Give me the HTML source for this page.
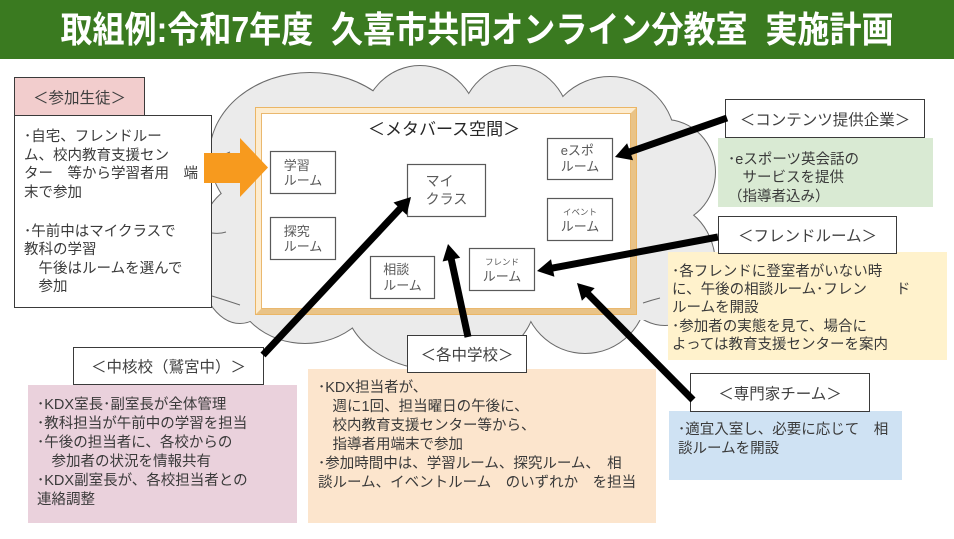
<!DOCTYPE html>
<html><head><meta charset="utf-8">
<style>
html,body{margin:0;padding:0;}
body{width:954px;height:539px;position:relative;overflow:hidden;background:#fff;font-family:"Liberation Sans","Noto Sans CJK JP",sans-serif;}
.abs{position:absolute;}
.t{position:absolute;white-space:pre;color:#3a3a3a;font-size:14.5px;font-family:"Liberation Sans","Noto Sans CJK JP",sans-serif;}
.hd{position:absolute;box-sizing:border-box;border:1.3px solid #3a3a3a;background:#fff;color:#404040;font-size:15.5px;text-align:center;white-space:pre;display:flex;align-items:center;justify-content:center;}
.rm{position:absolute;box-sizing:border-box;display:flex;flex-direction:column;align-items:center;justify-content:center;color:#595959;font-size:13px;line-height:15px;white-space:pre;}
.bx{position:absolute;}
</style></head>
<body>
<!-- title -->
<div class="abs" style="left:0;top:0;width:954px;height:59px;background:#3a7a20;"></div>
<div class="abs" style="left:0;top:0;width:954px;height:59px;line-height:59px;text-align:center;color:#fff;font-weight:bold;font-size:36px;white-space:pre;"><span style="display:inline-block;transform:scaleX(0.89);transform-origin:center;">取組例:令和7年度  久喜市共同オンライン分教室  実施計画</span></div>

<!-- cloud, frame, rooms -->
<svg class="abs" style="left:0;top:0" width="954" height="539" viewBox="0 0 954 539">
  <g fill="#ebebeb" stroke="#6a6a6a" stroke-width="2">
    <ellipse cx="310" cy="155" rx="100" ry="82"/>
    <ellipse cx="420" cy="128" rx="58" ry="62"/>
    <ellipse cx="515" cy="128" rx="55" ry="62"/>
    <ellipse cx="610" cy="142" rx="65" ry="65"/>
    <ellipse cx="665" cy="172" rx="50" ry="52"/>
    <ellipse cx="665" cy="265" rx="50" ry="60"/>
    <ellipse cx="585" cy="290" rx="62" ry="63"/>
    <ellipse cx="440" cy="300" rx="95" ry="70"/>
    <ellipse cx="305" cy="280" rx="72" ry="63"/>
    <ellipse cx="240" cy="255" rx="42" ry="68"/>
  </g>
  <g fill="#ebebeb" stroke="none">
    <ellipse cx="310" cy="155" rx="100" ry="82"/>
    <ellipse cx="420" cy="128" rx="58" ry="62"/>
    <ellipse cx="515" cy="128" rx="55" ry="62"/>
    <ellipse cx="610" cy="142" rx="65" ry="65"/>
    <ellipse cx="665" cy="172" rx="50" ry="52"/>
    <ellipse cx="665" cy="265" rx="50" ry="60"/>
    <ellipse cx="585" cy="290" rx="62" ry="63"/>
    <ellipse cx="440" cy="300" rx="95" ry="70"/>
    <ellipse cx="305" cy="280" rx="72" ry="63"/>
    <ellipse cx="240" cy="255" rx="42" ry="68"/>
    <rect x="250" y="120" width="410" height="200"/>
  </g>
  <!-- inner cloud arcs -->
  <g fill="none" stroke="#6a6a6a" stroke-width="1">
    <path d="M212,157 Q222,156 230,152"/>
    <path d="M212,233 Q220,234 226,232"/>
    <path d="M212,296 Q225,300 240,305"/>
    <path d="M643,303 Q652,300 660,298"/>
  </g>
  <!-- frame -->
  <rect x="255" y="107" width="382" height="208" fill="#f8dcaa"/>
  <polygon points="255,107 637,107 631,113 261,113 261,309 255,315" fill="#fdeccf"/>
  <polygon points="637,107 637,315 255,315 261,309 631,309 631,113" fill="#e9c387"/>
  <rect x="255.5" y="107.5" width="381" height="207" fill="none" stroke="#ebb665" stroke-width="1"/>
  <rect x="261.5" y="113.5" width="369" height="195" fill="#fff" stroke="#eab86e" stroke-width="1"/>
  <!-- rooms -->
  <g fill="#fff" stroke="#595959" stroke-width="1.2">
    <rect x="270.5" y="151.5" width="65" height="42"/>
    <rect x="270.5" y="217.5" width="65" height="42"/>
    <rect x="407.5" y="164.5" width="78" height="52"/>
    <rect x="370.5" y="256.5" width="64" height="42"/>
    <rect x="469.5" y="248.5" width="65" height="42"/>
    <rect x="547.5" y="138.5" width="65" height="41"/>
    <rect x="547.5" y="198.5" width="65" height="42"/>
  </g>
</svg>

<div class="t" style="left:368px;top:120px;font-size:17px;line-height:20px;color:#262626;">＜メタバース空間＞</div>

<div class="rm" style="left:270px;top:151px;width:66px;height:43px;">学習
ルーム</div>
<div class="rm" style="left:270px;top:217px;width:66px;height:43px;">探究
ルーム</div>
<div class="rm" style="left:407px;top:164px;width:79px;height:53px;font-size:14px;line-height:17.5px;">マイ
クラス</div>
<div class="rm" style="left:370px;top:256px;width:65px;height:43px;line-height:16px;">相談
ルーム</div>
<div class="rm" style="left:469px;top:248px;width:66px;height:43px;"><span style="font-size:8.5px;line-height:13px;">フレンド</span><span>ルーム</span></div>
<div class="rm" style="left:547px;top:138px;width:66px;height:42px;line-height:16px;">eスポ
ルーム</div>
<div class="rm" style="left:547px;top:198px;width:66px;height:43px;"><span style="font-size:8.5px;line-height:14px;">イベント</span><span>ルーム</span></div>

<!-- left: participants -->
<div class="hd" style="left:14px;top:77px;width:131px;height:39px;background:#f2cdcd;">＜参加生徒＞</div>
<div class="bx" style="left:14px;top:115px;width:198px;height:193px;box-sizing:border-box;border:1.3px solid #3a3a3a;background:#fff;"></div>
<div class="t" style="left:24px;top:128px;line-height:18.5px;">･自宅、フレンドルー
ム、校内教育支援セン
ター　等から学習者用　端
末で参加</div>
<div class="t" style="left:24px;top:222.5px;line-height:18.6px;">･午前中はマイクラスで
教科の学習
　午後はルームを選んで
　参加</div>

<!-- right: contents -->
<div class="bx" style="left:718px;top:138px;width:215px;height:69px;background:#d9ead3;"></div>
<div class="hd" style="left:725px;top:99px;width:200px;height:39px;">＜コンテンツ提供企業＞</div>
<div class="t" style="left:728px;top:151px;line-height:18.4px;">･eスポーツ英会話の
　サービスを提供
（指導者込み）</div>

<!-- friend room -->
<div class="bx" style="left:668px;top:252px;width:279px;height:108px;background:#fff2cc;"></div>
<div class="hd" style="left:718px;top:216px;width:179px;height:38px;">＜フレンドルーム＞</div>
<div class="t" style="left:672px;top:262.5px;line-height:18.4px;">･各フレンドに登室者がいない時
に、午後の相談ルーム･フレン　　ド
ルームを開設
･参加者の実態を見て、場合に
よっては教育支援センターを案内</div>

<!-- expert team -->
<div class="bx" style="left:669px;top:411px;width:233px;height:69px;background:#cfe2f3;"></div>
<div class="hd" style="left:690px;top:373px;width:180px;height:39px;">＜専門家チーム＞</div>
<div class="t" style="left:678px;top:420.5px;line-height:19.5px;">･適宜入室し、必要に応じて　相
談ルームを開設</div>

<!-- core school -->
<div class="bx" style="left:28px;top:385px;width:269px;height:138px;background:#ead1dc;"></div>
<div class="hd" style="left:73px;top:347px;width:191px;height:38px;">＜中核校（鷲宮中）＞</div>
<div class="t" style="left:37px;top:395.5px;line-height:19px;">･KDX室長･副室長が全体管理
･教科担当が午前中の学習を担当
･午後の担当者に、各校からの
　参加者の状況を情報共有
･KDX副室長が、各校担当者との
連絡調整</div>

<!-- each junior high -->
<div class="bx" style="left:308px;top:369px;width:348px;height:154px;background:#fce5cd;"></div>
<div class="hd" style="left:407px;top:335px;width:120px;height:38px;">＜各中学校＞</div>
<div class="t" style="left:318px;top:379px;line-height:19px;">･KDX担当者が、
　週に1回、担当曜日の午後に、
　校内教育支援センター等から、
　指導者用端末で参加
･参加時間中は、学習ルーム、探究ルーム、　相
談ルーム、イベントルーム　のいずれか　を担当</div>

<!-- arrows -->
<svg class="abs" style="left:0;top:0" width="954" height="539" viewBox="0 0 954 539">
  <polygon points="204,153 240,153 240,138 268,167.5 240,197 240,183 204,183" fill="#f79a1e"/>
  <g stroke="#000" stroke-width="7" fill="none">
    <line x1="263" y1="355" x2="402.1" y2="206.5"/>
    <line x1="468" y1="337" x2="450.7" y2="256.7"/>
    <line x1="693" y1="400" x2="586.2" y2="292.2"/>
    <line x1="718" y1="237" x2="549.8" y2="268.6"/>
    <line x1="727" y1="118" x2="627.3" y2="152.7"/>
  </g>
  <g fill="#000">
    <polygon points="411,197 406.7,214.9 393.5,202.5"/>
    <polygon points="448,244 460.2,257.7 442.6,261.5"/>
    <polygon points="577,283 594.7,288.1 581.9,300.7"/>
    <polygon points="537,271 551.0,259.2 554.4,276.8"/>
    <polygon points="615,157 627.1,143.2 633.1,160.2"/>
  </g>
</svg>
</body></html>
